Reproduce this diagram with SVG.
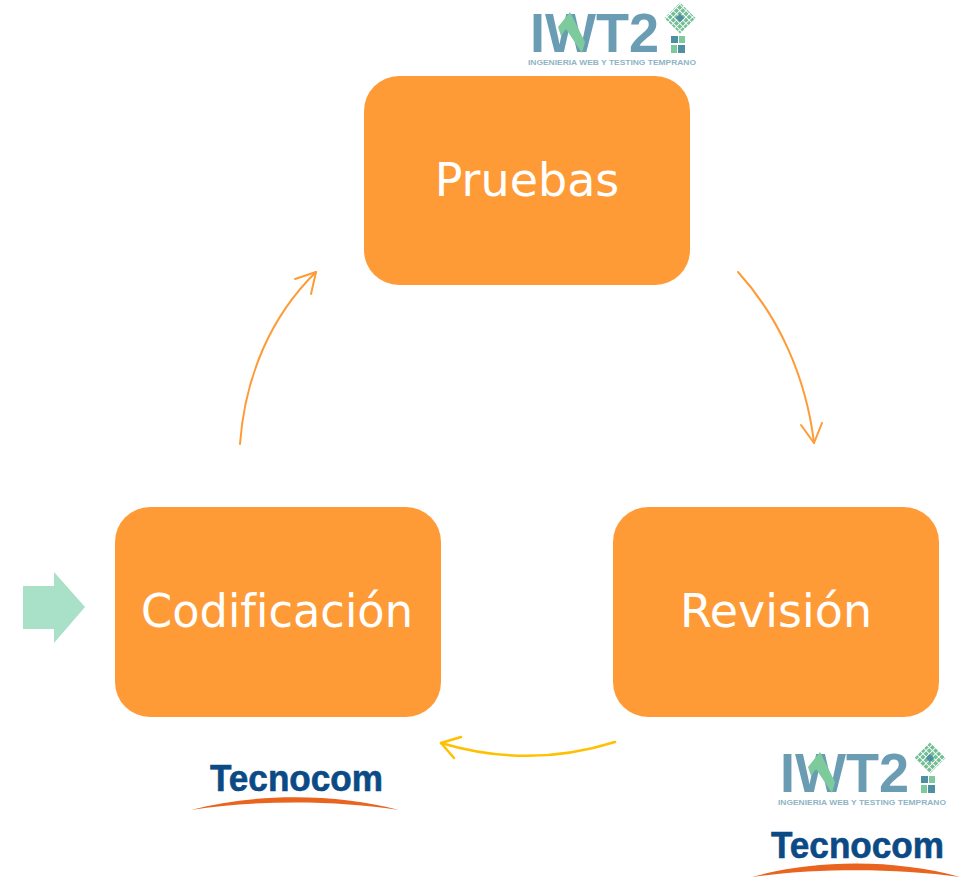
<svg xmlns="http://www.w3.org/2000/svg" width="966" height="878" viewBox="0 0 966 878">
<style>
.box{fill:#FF9B36}
.lbl{font-family:"DejaVu Sans",Verdana,sans-serif;font-size:46px;fill:#fff;text-anchor:middle;font-variant-ligatures:none}
.cn{fill:none;stroke:#FF9B36;stroke-width:2;stroke-linecap:round;stroke-linejoin:round}
.cy{stroke:#FFC000;stroke-width:2.5}
.iw{font-family:"Liberation Sans",Arial,sans-serif;font-weight:700;font-size:56px;fill:#6A9DB3}
.tag{font-family:"Liberation Sans",Arial,sans-serif;font-weight:700;font-size:8px;fill:#8FB4C4}
.tc{font-family:"Liberation Sans",Arial,sans-serif;font-weight:700;font-size:36px;fill:#0C4A86;stroke:#0C4A86;stroke-width:.6}
.sw{fill:#E9641E}
.g1{fill:#7DCB9C}
.g2{fill:#4E8FA0}
.mos{fill:url(#mosaic)}
</style>
<defs>
<pattern id="mosaic" width="4.5" height="4.5" patternUnits="userSpaceOnUse">
<rect width="3.6" height="3.6" fill="#72BE95"/>
</pattern>
</defs>
<rect width="966" height="878" fill="#fff"/>
<g id="connectors">
<path class="cn" d="M738 272C778 316 806 376 814 443"/>
<path class="cn" d="M801 425L814 443L822 423"/>
<path class="cn" d="M240 444C245 376 271 316 316 272"/>
<path class="cn" d="M295 279L316 272L311 294"/>
<path class="cn cy" d="M615 742C558 760 498 760 441 743"/>
<path class="cn cy" d="M461 737L441 743L454 758"/>
</g>
<g id="node-pruebas">
<rect class="box" x="364" y="76" width="326" height="209" rx="35"/>
<text class="lbl" x="527" y="196">Pruebas</text>
</g>
<g id="node-codificacion">
<rect class="box" x="115" y="507" width="326" height="210" rx="35"/>
<text class="lbl" x="277" y="627" textLength="272" lengthAdjust="spacingAndGlyphs">Codificación</text>
</g>
<g id="node-revision">
<rect class="box" x="613" y="507" width="326" height="210" rx="35"/>
<text class="lbl" x="776" y="627">Revisión</text>
</g>
<g id="start-arrow">
<path fill="#A8E0C8" d="M23 586H54V572L85 607L54 643V629H23Z"/>
</g>
<g id="logo-iwt2-top">
<text class="iw" x="530" y="52" textLength="129" lengthAdjust="spacingAndGlyphs">IWT2</text>
<path class="g1" d="M570 12L585 42L582 53L566 29L561 36L558 27Z"/>
<g transform="rotate(45 680 18)">
<rect class="mos" x="669" y="7" width="22" height="22"/>
<rect class="g2" x="677" y="15" width="6" height="6"/>
</g>
<rect class="g2" x="671" y="36" width="7" height="7"/><rect class="g1" x="679" y="36" width="6" height="7"/>
<rect class="g1" x="671" y="45" width="6" height="8"/><rect class="g2" x="678" y="45" width="7" height="8"/>
<text class="tag" x="528" y="65" textLength="168" lengthAdjust="spacingAndGlyphs">INGENIERIA WEB Y TESTING TEMPRANO</text>
</g>
<g id="logo-iwt2-bottom">
<text class="iw" x="780" y="792" textLength="129" lengthAdjust="spacingAndGlyphs">IWT2</text>
<path class="g1" d="M820 752L835 782L832 793L816 769L811 776L808 767Z"/>
<g transform="rotate(45 930 758)">
<rect class="mos" x="919" y="747" width="22" height="22"/>
<rect class="g2" x="927" y="755" width="6" height="6"/>
</g>
<rect class="g2" x="921" y="776" width="7" height="7"/><rect class="g1" x="929" y="776" width="6" height="7"/>
<rect class="g1" x="921" y="785" width="6" height="8"/><rect class="g2" x="928" y="785" width="7" height="8"/>
<text class="tag" x="778" y="805" textLength="168" lengthAdjust="spacingAndGlyphs">INGENIERIA WEB Y TESTING TEMPRANO</text>
</g>
<g id="logo-tecnocom-left">
<text class="tc" x="210" y="791" textLength="173" lengthAdjust="spacingAndGlyphs">Tecnocom</text>
<path class="sw" d="M191 810C255 793 335 793 399 810C335 800 255 800 191 810Z"/>
</g>
<g id="logo-tecnocom-right">
<text class="tc" x="771" y="858" textLength="173" lengthAdjust="spacingAndGlyphs">Tecnocom</text>
<path class="sw" d="M752 877C816 859 896 859 960 877C896 868 816 868 752 877Z"/>
</g>
</svg>
